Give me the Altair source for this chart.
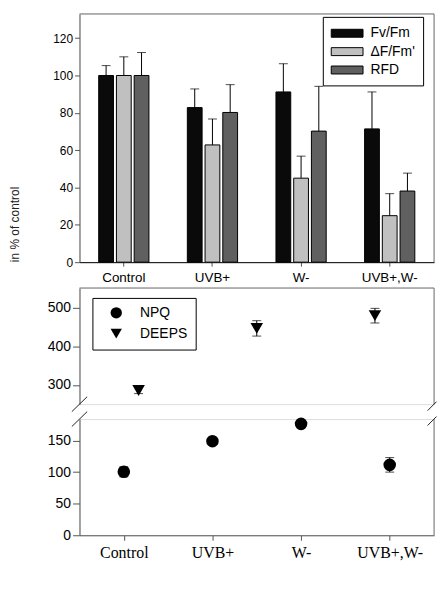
import altair as alt
import pandas as pd

SANS = "Liberation Sans"
SERIF = "Liberation Serif"

# ---------------- data ----------------
categories = ["Control", "UVB+", "W-", "UVB+,W-"]
bar_series = ["Fv/Fm", "\u0394F/Fm'", "RFD"]
fv_fm = [100, 82.8, 91.2, 71.4]
fv_fm_err = [5.3, 10.0, 15.1, 19.8]
dF_Fm = [100, 62.8, 45.0, 24.9]
dF_Fm_err = [10.0, 13.9, 11.8, 11.8]
rfd = [100, 80.2, 70.2, 38.1]
rfd_err = [12.3, 14.9, 24.0, 9.6]
bar_colors = ["#0a0a0a", "#c0c0c0", "#606060"]
top_ticks = [0, 20, 40, 60, 80, 100, 120]
y_title = "in % of control"

pt_series = ["NPQ", "DEEPS"]
pt_shapes = ["circle", "triangle-down"]
npq = [100.5, 149.0, 176.4, 111.5]
npq_err = [8.0, 4.0, 6.0, 11.5]
deeps_cats = ["UVB+", "W-", "UVB+,W-"]
deeps = [285.5, 447.0, 480.0]
deeps_err = [8.0, 20.0, 19.0]
upper_ticks = [300, 400, 500]
lower_ticks = [0, 50, 100, 150]

# ---------------- tables ----------------
rows = []
for s, vals, errs in zip(bar_series, [fv_fm, dF_Fm, rfd], [fv_fm_err, dF_Fm_err, rfd_err]):
    for c, v, e in zip(categories, vals, errs):
        rows.append({"cat": c, "series": s, "value": v, "hi": v + e})
bars_df = pd.DataFrame(rows)

npq_df = pd.DataFrame({"cat": categories, "series": "NPQ", "value": npq,
                       "lo": [v - e for v, e in zip(npq, npq_err)],
                       "hi": [v + e for v, e in zip(npq, npq_err)]})
deeps_df = pd.DataFrame({"cat": deeps_cats, "series": "DEEPS", "value": deeps,
                         "lo": [v - e for v, e in zip(deeps, deeps_err)],
                         "hi": [v + e for v, e in zip(deeps, deeps_err)]})
one = pd.DataFrame({"a": [0]})
title_df = pd.DataFrame({"t": [y_title]})

FRAME = "#777777"
AXC = "#555555"

# ---------------- top panel ----------------
W1, H1 = 357, 250
x_top = alt.X("cat:N", sort=categories, title=None,
              scale=alt.Scale(paddingInner=0.4333, paddingOuter=0.21667),
              axis=alt.Axis(title=None, labelAngle=0, labelFont=SANS, labelFontSize=13.5,
                            labelColor="black", tickColor=AXC, domainColor="black",
                            tickSize=4, labelPadding=4, labelOverlap=False))
xo = alt.XOffset("series:N", sort=bar_series,
                 scale=alt.Scale(paddingInner=0.1667, paddingOuter=0))
y_top = alt.Y("value:Q", title=None, scale=alt.Scale(domain=[0, 133], nice=False),
              axis=alt.Axis(values=top_ticks, title=None, labelOverlap=False,
                            labelFont=SANS, labelFontSize=12, labelColor="black",
                            tickSize=5, tickColor=AXC, domainColor=AXC, grid=False))

bars = alt.Chart(bars_df).mark_bar(stroke="black", strokeWidth=1).encode(
    x=x_top, xOffset=xo, y=y_top,
    fill=alt.Fill("series:N", sort=bar_series,
                  scale=alt.Scale(domain=bar_series, range=bar_colors),
                  legend=alt.Legend(title=None, orient="none", legendX=245, legendY=3,
                                    symbolType="M-2,-0.5H2V0.5H-2Z", symbolSize=256,
                                    symbolStrokeColor="black", symbolStrokeWidth=1,
                                    symbolOffset=8,
                                    labelFont=SANS, labelFontSize=14, labelColor="black",
                                    labelOffset=15, rowPadding=2.5, padding=8,
                                    strokeColor="black", fillColor="white")),
)
err_rule = alt.Chart(bars_df).mark_rule(color="black", strokeWidth=1).encode(
    x=alt.X("cat:N", sort=categories, title=None),
    xOffset=alt.XOffset("series:N", sort=bar_series),
    y=alt.Y("value:Q", title=None), y2="hi:Q")
err_cap = alt.Chart(bars_df).mark_tick(color="black", thickness=1, size=9).encode(
    x=alt.X("cat:N", sort=categories, title=None),
    xOffset=alt.XOffset("series:N", sort=bar_series),
    y=alt.Y("hi:Q", title=None))
top_border = alt.Chart(one).mark_rule(color=FRAME).encode(
    x=alt.value(0), x2=alt.value(W1), y=alt.value(0))
right_border = alt.Chart(one).mark_rule(color=FRAME).encode(
    x=alt.value(W1), y=alt.value(0), y2=alt.value(H1))
title_txt = alt.Chart(title_df).mark_text(
    angle=270, align="center", baseline="middle", font=SANS, fontSize=12,
    color="#222").encode(text="t:N", x=alt.value(-65), y=alt.value(212))

top = alt.layer(bars, err_rule, err_cap, top_border, right_border, title_txt).properties(
    width=W1, height=H1)

# ---------------- bottom panels (broken axis) ----------------
W2 = W1
H2 = 117
H3 = 117
up_dom = [250, 552]
lo_dom = [0, 184]

shape_enc_upper = alt.Shape("series:N",
                            scale=alt.Scale(domain=pt_series, range=pt_shapes),
                            legend=alt.Legend(title=None, orient="none", legendX=13, legendY=10,
                                              symbolSize=130, symbolFillColor="black",
                                              symbolStrokeColor="black",
                                              labelFont=SANS, labelFontSize=14,
                                              labelColor="black", labelOffset=17,
                                              symbolOffset=9, rowPadding=4, padding=8,
                                              strokeColor="black", fillColor="white"))
shape_enc_lower = alt.Shape("series:N",
                            scale=alt.Scale(domain=pt_series, range=pt_shapes),
                            legend=None)

x_pt_none = alt.X("cat:N", sort=categories, title=None,
                  scale=alt.Scale(type="point", padding=0.5), axis=None)
x_pt_axis = alt.X("cat:N", sort=categories, title=None,
                  scale=alt.Scale(type="point", padding=0.5),
                  axis=alt.Axis(title=None, labelAngle=0, labelFont=SERIF, labelFontSize=16,
                                labelColor="black", tickColor=AXC, domainColor=AXC,
                                tickSize=5, labelPadding=4, labelOverlap=False))


def y_axis(ticks):
    return alt.Axis(values=ticks, title=None, labelFont=SANS, labelFontSize=14,
                    labelColor="black", tickSize=7, tickColor=AXC, domainColor=AXC,
                    grid=False, labelOverlap=False)


def slash(x0, y0, dx=7.7, dy=7.5):
    return alt.Chart(one).mark_rule(color="#222", strokeWidth=1).encode(
        x=alt.value(x0 - dx), x2=alt.value(x0 + dx),
        y=alt.value(y0 + dy), y2=alt.value(y0 - dy))


up_scale = alt.Scale(domain=up_dom, nice=False)
y_up = alt.Y("value:Q", scale=up_scale, axis=y_axis(upper_ticks), title=None)
up_rule = alt.Chart(deeps_df).mark_rule(color="black").encode(
    x=x_pt_none, y=alt.Y("lo:Q", scale=up_scale, title=None, axis=y_axis(upper_ticks)),
    y2="hi:Q")
up_cap_lo = alt.Chart(deeps_df).mark_tick(color="black", thickness=1, size=9).encode(
    x=x_pt_none, y=alt.Y("lo:Q", title=None, axis=y_axis(upper_ticks)))
up_cap_hi = alt.Chart(deeps_df).mark_tick(color="black", thickness=1, size=9).encode(
    x=x_pt_none, y=alt.Y("hi:Q", title=None, axis=y_axis(upper_ticks)))
up_pts = alt.Chart(deeps_df).mark_point(filled=True, size=160, opacity=1, color="black").encode(
    x=x_pt_none, y=y_up, shape=shape_enc_upper)
up_top = alt.Chart(one).mark_rule(color=FRAME).encode(
    x=alt.value(0), x2=alt.value(W2), y=alt.value(0))
up_right = alt.Chart(one).mark_rule(color=FRAME).encode(
    x=alt.value(W2), y=alt.value(0), y2=alt.value(H2))
upper = alt.layer(up_rule, up_cap_lo, up_cap_hi, up_pts, up_top, up_right,
                  slash(0, H2), slash(W2 - 2, H2 + 2, dx=4.5, dy=4.5)).properties(
    width=W2, height=H2)

lo_scale = alt.Scale(domain=lo_dom, nice=False)
y_lo = alt.Y("value:Q", scale=lo_scale, axis=y_axis(lower_ticks), title=None)
lo_rule = alt.Chart(npq_df).mark_rule(color="black").encode(
    x=x_pt_axis, y=alt.Y("lo:Q", scale=lo_scale, title=None, axis=y_axis(lower_ticks)),
    y2="hi:Q")
lo_cap_lo = alt.Chart(npq_df).mark_tick(color="black", thickness=1, size=9).encode(
    x=x_pt_axis, y=alt.Y("lo:Q", title=None, axis=y_axis(lower_ticks)))
lo_cap_hi = alt.Chart(npq_df).mark_tick(color="black", thickness=1, size=9).encode(
    x=x_pt_axis, y=alt.Y("hi:Q", title=None, axis=y_axis(lower_ticks)))
lo_pts = alt.Chart(npq_df).mark_point(filled=True, size=160, opacity=1, color="black").encode(
    x=x_pt_axis, y=y_lo, shape=shape_enc_lower)
lo_right = alt.Chart(one).mark_rule(color=FRAME).encode(
    x=alt.value(W2), y=alt.value(0), y2=alt.value(H3))
lower = alt.layer(lo_rule, lo_cap_lo, lo_cap_hi, lo_pts, lo_right,
                  slash(0, 0), slash(W2 - 2, 2, dx=4.5, dy=4.5)).properties(
    width=W2, height=H3)

bottom = alt.vconcat(upper, lower, spacing=-3).resolve_scale(
    shape="independent", y="independent").resolve_legend(shape="independent")

chart = alt.vconcat(top, bottom, spacing=3).resolve_legend(
    fill="independent", shape="independent").resolve_scale(
    shape="independent", y="independent").properties(
    padding={"left": 0, "top": 3, "right": 0, "bottom": 0}).configure_view(
    stroke="transparent").configure(background="white")

chart.save("out.html", embed_options={"renderer": "svg", "actions": False})
